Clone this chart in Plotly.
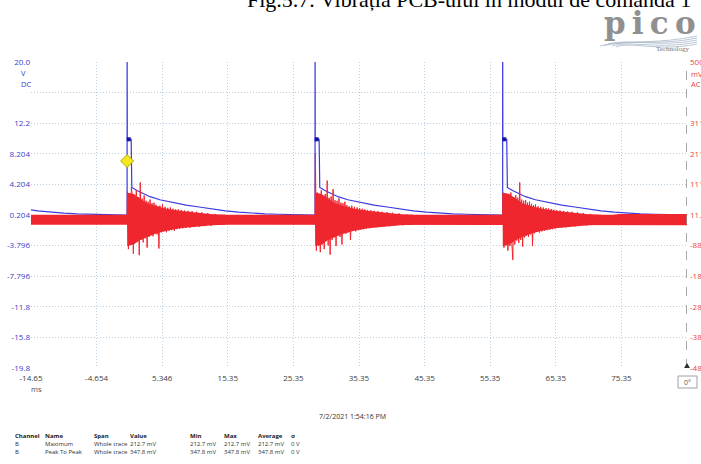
import plotly.graph_objects as go

# ---------------- data ----------------
x_tick_vals = [-14.65, -4.654, 5.346, 15.35, 25.35, 35.35, 45.35, 55.35, 65.35, 75.35, 85.35]
x_tick_text = ["-14.65", "-4.654", "5.346", "15.35", "25.35", "35.35", "45.35", "55.35", "65.35", "75.35", ""]

v_tick_vals = [20.204, 16.204, 12.204, 8.204, 4.204, 0.204, -3.796, -7.796, -11.796, -15.796, -19.796]
v_tick_text = ["20.0", "", "12.2", "8.204", "4.204", "0.204", "-3.796", "-7.796", "-11.8", "-15.8", "-19.8"]

mv_tick_vals = [511.5, 311.5, 211.5, 111.5, 11.5, -88.5, -188.5, -288.5, -388.5, -488.5]
mv_tick_text = ["500", "311.5", "211.5", "111.5", "11.5", "-88.5", "-188.5", "-288.5", "-388.5", "-488.5"]

# Channel A (blue, V): pulse instants and the shape read around each pulse
pulse_times = [-28.65, 0.0, 28.65, 57.25]
pulse_dt = [-0.05, 0.0, 0.0, 0.03, 0.62, 0.64, 0.68, 0.72, 1.5, 2.5, 3.5, 5.0, 7.0, 9.0,
            11.0, 13.0, 15.0, 17.0, 19.0, 21.0, 23.0, 25.0, 27.0]
pulse_v = [0.2, 0.2, 24.0, 10.1, 10.1, 6.9, 6.6, 3.8, 3.4, 3.0, 2.6, 2.2, 1.8, 1.5,
           1.25, 0.98, 0.74, 0.57, 0.44, 0.36, 0.30, 0.26, 0.22]
trace_end_t = 85.35
trace_end_v = 0.21
plateau_dt = 0.25
plateau_v = 10.1
trigger_t = 0.0
trigger_v = 7.26

# Channel B (red, mV): baseline noise band
band_t = [-14.65, 74.0, 75.0, 85.35]
band_hi = [12, 12, 15, 15]
band_lo = [-20, -20, -22, -22]

# Channel B dense burst mass after each pulse (offset ms, envelope mV)
burst_env_dt = [0.0, 0.02, 1.0, 2.0, 3.0, 4.5, 6.0, 8.0, 10.0, 13.0, 15.0]
burst_env_hi = [12, 85, 80, 65, 50, 40, 32, 25, 20, 14, 12]
burst_env_lo = [-20, -90, -85, -70, -60, -48, -40, -32, -28, -22, -20]

# Channel B bursts after each pulse (offset ms, value mV)
burst_dt = [0.00, 0.05, 0.20, 0.35, 0.50, 0.65, 0.80, 0.95, 1.10, 1.25, 1.40, 1.55, 1.70, 1.85,
            2.00, 2.15, 2.30, 2.45, 2.60, 2.75, 2.90, 3.05, 3.20, 3.35, 3.50, 3.65, 3.80, 3.95,
            4.10, 4.25, 4.40, 4.55, 4.70, 4.85, 5.00, 5.20, 5.40, 5.60, 5.80, 6.00, 6.20, 6.40,
            6.60, 6.80, 7.00, 7.20, 7.40, 7.60, 7.80, 8.00, 8.25, 8.50, 8.75, 9.00, 9.30, 9.60,
            9.90, 10.2, 10.6, 11.0, 11.4, 11.8, 12.3, 12.8, 13.4, 14.0]
burst1_mv = [5, 88, -100, 80, -85, 102, 70, -115, 78, -80, 92, -75, 70, -120,
             118, -70, 65, -78, 75, -65, 58, -95, 55, -60, 62, -55, 50, -58,
             52, -50, 45, -52, 40, -98, 42, -45, 46, -42, 38, -45, 35, -40,
             36, -38, 32, -40, 30, -35, 30, -34, 28, -32, 26, -30, 25, -30,
             24, -28, 22, -27, 20, -25, 18, -24, 15, -20]
burst2_mv = [5, 212.7, -105, 85, -90, 75, -110, 92, -85, 70, -100, 80, -72, 124,
             -88, 68, -118, 72, -70, 96, -62, 60, -90, 58, -55, 66, -60, 52,
             -85, 50, -48, 55, -50, 44, -46, 40, -70, 42, -40, 38, -42, 36,
             -38, 34, -36, 32, -35, 30, -34, 28, -32, 27, -30, 25, -29, 24,
             -28, 22, -26, 21, -25, 19, -23, 17, -22, 14]
burst3_mv = [5, 82, -95, 78, -88, 80, -105, 72, -90, 85, -80, -135, 70, -85,
             76, -72, 68, -80, 118, -70, 62, -92, 58, -62, 60, -56, 52, -60,
             55, -52, 48, -90, 44, -48, 46, -44, 40, -46, 38, -42, 36, -40,
             34, -38, 33, -36, 31, -35, 29, -33, 27, -31, 26, -30, 25, -29,
             23, -27, 22, -26, 20, -24, 18, -23, 15, -21]
burst_times = [0.0, 28.65, 57.25]

table_header = ["Channel", "Name", "Span", "Value", "Min", "Max", "Average", "σ"]
table_row1 = ["B", "Maximum", "Whole trace", "212.7 mV", "212.7 mV", "212.7 mV", "212.7 mV", "0 V"]
table_row2 = ["B", "Peak To Peak", "Whole trace", "347.8 mV", "347.8 mV", "347.8 mV", "347.8 mV", "0 V"]

# ---------------- layout helpers ----------------
W, H = 701, 464
L, R, T, B = 31, 687, 62, 368


def fx(px):
    return (px - L) / (R - L)


def fy(py):
    return (B - py) / (B - T)


BLUE = "#3a3ae0"
RED = "#f0262e"
GRID = "#bcd0e2"
FONT = "Open Sans"

fig = go.Figure()

# red baseline band
fig.add_trace(go.Scatter(
    x=band_t + band_t[::-1], y=band_hi + band_lo[::-1],
    fill="toself", fillcolor=RED, line=dict(width=0, color=RED),
    mode="lines", yaxis="y2", hoverinfo="skip", showlegend=False))

# dense burst mass
for t0 in burst_times:
    ex = [t0 + d for d in burst_env_dt]
    fig.add_trace(go.Scatter(
        x=ex + ex[::-1], y=burst_env_hi + burst_env_lo[::-1],
        fill="toself", fillcolor=RED, line=dict(width=0, color=RED),
        mode="lines", yaxis="y2", hoverinfo="skip", showlegend=False))

# red burst spikes
bx, by = [], []
for t0, vals in zip(burst_times, [burst1_mv, burst2_mv, burst3_mv]):
    bx += [t0 + d for d in burst_dt] + [None]
    by += list(vals) + [None]
fig.add_trace(go.Scatter(x=bx, y=by, mode="lines", yaxis="y2",
                         line=dict(color=RED, width=1), showlegend=False))

# blue trace
ax, ay = [], []
for t0 in pulse_times:
    ax += [t0 + d for d in pulse_dt]
    ay += pulse_v
ax.append(trace_end_t)
ay.append(trace_end_v)
fig.add_trace(go.Scatter(x=ax, y=ay, mode="lines", yaxis="y",
                         line=dict(color=BLUE, width=1.2), showlegend=False))

# plateau markers
fig.add_trace(go.Scatter(x=[t + plateau_dt for t in pulse_times[1:]],
                         y=[plateau_v] * (len(pulse_times) - 1), mode="markers",
                         marker=dict(symbol="square", size=4, color="#1414a0"),
                         showlegend=False))
# trigger marker
fig.add_trace(go.Scatter(x=[trigger_t], y=[trigger_v], mode="markers",
                         marker=dict(symbol="diamond", size=10, color="#f5e61e",
                                     line=dict(color="#b8a800", width=1)),
                         showlegend=False))

fig.update_layout(
    width=W, height=H, template="none",
    paper_bgcolor="white", plot_bgcolor="white",
    margin=dict(l=L, r=W - R, t=T, b=H - B, pad=0),
    showlegend=False,
    xaxis=dict(range=[-14.65, 85.35], tickvals=x_tick_vals, ticktext=x_tick_text,
               showgrid=True, gridcolor=GRID, griddash="1px,2px", gridwidth=1,
               zeroline=False, showline=False, ticks="", automargin=False,
               ticklabelstandoff=4,
               tickfont=dict(family=FONT, size=8, color="#404040")),
    yaxis=dict(range=[-19.796, 20.204], tickvals=v_tick_vals, ticktext=v_tick_text,
               showgrid=True, gridcolor=GRID, griddash="1px,2px", gridwidth=1,
               zeroline=False, showline=False, ticks="", automargin=False,
               tickfont=dict(family=FONT, size=8, color="#3c3cc8")),
    yaxis2=dict(range=[-488.5, 511.5], tickvals=mv_tick_vals, ticktext=mv_tick_text,
                overlaying="y", side="right", showgrid=False, zeroline=False,
                showline=False, ticks="", automargin=False, ticklabelstandoff=2,
                tickfont=dict(family=FONT, size=8, color="#ee4040")),
)

shapes = []
# right dashed channel line
shapes.append(dict(type="line", xref="x", yref="paper", x0=85.35, x1=85.35, y0=0, y1=1,
                   line=dict(color="#8c8c8c", width=1.5, dash="dash")))
# small triangle at bottom of it
shapes.append(dict(type="path", xref="paper", yref="paper",
                   path=f"M {fx(684)},{fy(368)} L {fx(690)},{fy(368)} L {fx(687)},{fy(363)} Z",
                   fillcolor="#303030", line=dict(width=0)))
# 0° box
shapes.append(dict(type="rect", xref="paper", yref="paper",
                   x0=fx(678), x1=fx(697), y0=fy(388), y1=fy(376),
                   line=dict(color="#a0a0a0", width=1), fillcolor="white"))
# logo waves
for i, (y0, y1) in enumerate([(46, 36), (45, 38), (44, 40), (46, 42), (47, 44)]):
    shapes.append(dict(type="path", xref="paper", yref="paper",
                       path=(f"M {fx(600 + i * 4)},{fy(y0)} C {fx(630)},{fy(y0 - 6)} "
                             f"{fx(660)},{fy(y1 + 8)} {fx(697)},{fy(y1)}"),
                       line=dict(color="#a9b9c9", width=0.8)))
fig.update_layout(shapes=shapes)

ann = []


def add(text, px, py, size=8, color="#404040", xanchor="center", family=FONT, yanchor="middle"):
    ann.append(dict(text=text, x=fx(px), y=fy(py), xref="paper", yref="paper",
                    showarrow=False, xanchor=xanchor, yanchor=yanchor,
                    font=dict(family=family, size=size, color=color)))


# title (cut at top)
add("Fig.5.7. Vibrația PCB-ului în modul de comandă 1", 245, -1, size=22,
    color="#000000", xanchor="left", family="Liberation Serif")
# pico logo
add("<b>p\u2009i\u2009c\u2009o</b>", 650, 23, size=31, color="#909090", family="DejaVu Serif")
add("Technology", 672, 49, size=7, color="#707070", family="Liberation Serif")
# unit labels
add("V", 23, 73, size=7.5, color="#3c3cc8")
add("DC", 19, 84, size=7.5, color="#3c3cc8", xanchor="left")
add("mV", 689, 74, size=7.5, color="#ee4040", xanchor="left")
add("AC", 689, 84, size=7.5, color="#ee4040", xanchor="left")
add("ms", 36, 389, size=7.5, color="#505050")
add("0°", 687.5, 382, size=7, color="#606060")
# date
add("7/2/2021 1:54:16 PM", 352, 417, size=7, color="#303030")
# measurements table
col_x = [13, 43, 92, 128, 188, 222, 256, 289]
for txt, px in zip(table_header, col_x):
    add(f"<b>{txt}</b>", px, 436, size=6, color="#202020", xanchor="left")
for txt, px in zip(table_row1, col_x):
    add(txt, px, 444, size=6, color="#303030", xanchor="left")
for txt, px in zip(table_row2, col_x):
    add(txt, px, 452, size=6, color="#303030", xanchor="left")

fig.update_layout(annotations=ann)
fig.write_html("out.html", config={"displayModeBar": False},
               post_script="document.body.style.margin='0';")
